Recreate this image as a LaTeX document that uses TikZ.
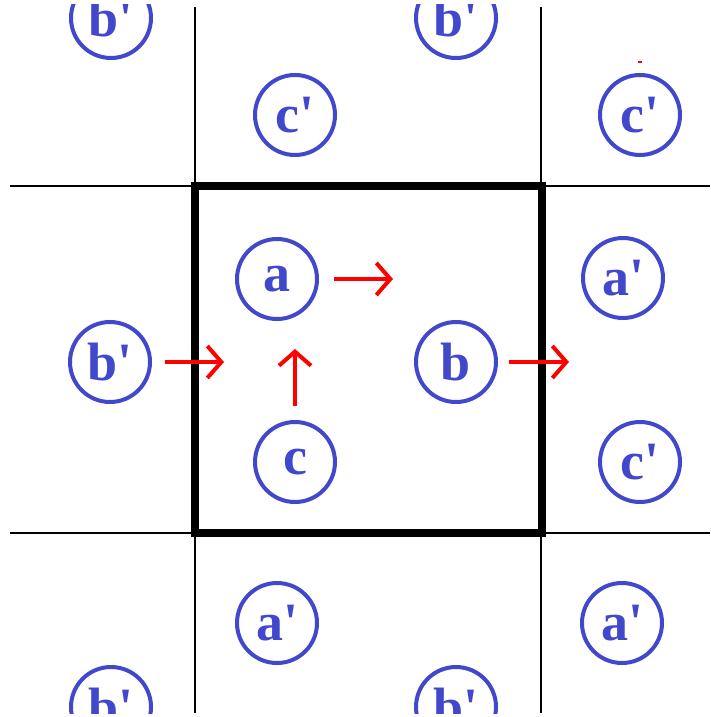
\documentclass[tikz,border=0pt]{standalone}
\usepackage{fontspec}
\setmainfont{Liberation Serif}
\newfontfamily\sitefont{Liberation Serif}
\usetikzlibrary{arrows.meta}
\definecolor{siteblue}{RGB}{66,72,204}
\tikzstyle{site} = [circle, draw=siteblue, line width=4pt, minimum size=80pt, inner sep=0pt, text=siteblue, font=\sitefont\fontsize{54}{54}\selectfont\bfseries]
\tikzstyle{grid} = [black, line width=1.5pt]
\tikzstyle{cell} = [black, line width=8.5pt]
\tikzstyle{arr} = [-{Straight Barb[length=14pt,width=32pt]}, red, line width=4pt]

\begin{document}
\begin{tikzpicture}[x=1pt, y=-1pt]
\useasboundingbox (0,0) rectangle (710,717);
\begin{scope}
\clip (0,5) rectangle (710,713);
% lattice lines
\draw[grid] (195,7) -- (195,713);
\draw[grid] (541,7) -- (541,713);
\draw[grid] (10,186) -- (710,186);
\draw[grid] (10,533) -- (710,533);
% unit cell
\draw[cell] (195,186) rectangle (542,533);
% sites inside the cell
\node[site] (a) at (277,279) {a};
\node[site] (b) at (456,362) {b};
\node[site] (c) at (295,462) {c};
% periodic images
\node[site] (bpTL) at (111,18) {b'};
\node[site] (bpTM) at (456,18) {b'};
\node[site] (cpT) at (295,115) {c'};
\node[site] (cpTR) at (640,115) {c'};
\node[site] (apR) at (623,278) {a'};
\node[site] (bpL) at (110,362) {b'};
\node[site] (cpR) at (640,462) {c'};
\node[site] (apB) at (277,623) {a'};
\node[site] (apBR) at (622,623) {a'};
\node[site] (bpBL) at (111,707) {b'};
\node[site] (bpBM) at (456,707) {b'};
\end{scope}
% displacement arrows
\coordinate (aout) at (393,279);
\coordinate (bout) at (569,362);
\coordinate (bpLout) at (224,362);
\coordinate (cout) at (295,349);
\draw[arr, shorten <=15pt] (a) -- (aout);
\draw[arr, shorten <=11pt] (b) -- (bout);
\draw[arr, shorten <=13pt] (bpL) -- (bpLout);
\draw[arr, shorten <=14pt] (c) -- (cout);
\draw[red, line width=1.5pt] (638,62) -- (642,62);
\end{tikzpicture}
\end{document}
